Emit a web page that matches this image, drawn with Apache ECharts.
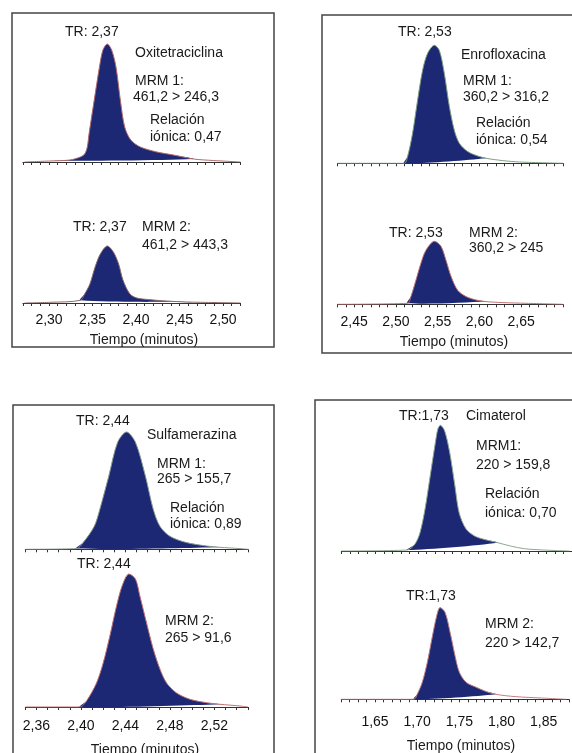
<!DOCTYPE html>
<html>
<head>
<meta charset="utf-8">
<script src="https://cdn.jsdelivr.net/npm/echarts@6/dist/echarts.min.js"></script>
<style>
  html, body { margin: 0; padding: 0; background: #fff; }
  #chart { width: 572px; height: 753px; }
</style>
</head>
<body>
<div id="chart"></div>
<script>
// Oxitetraciclina
var oxiMrm1Time = [2.272, 2.301, 2.324, 2.336, 2.341, 2.344, 2.346, 2.352, 2.358, 2.362, 2.367, 2.372, 2.377, 2.382, 2.387, 2.394, 2.405, 2.424, 2.443, 2.466, 2.489, 2.52];
var oxiMrm1Int  = [0, 1, 2, 5, 8, 15, 28, 62, 95, 112, 118, 112, 95, 62, 35, 22, 15, 10, 7, 3, 1.5, 0];
var oxiMrm1Peak = [2.301, 2.466];
var oxiMrm2Time = [2.272, 2.301, 2.336, 2.341, 2.347, 2.353, 2.359, 2.367, 2.374, 2.380, 2.385, 2.393, 2.401, 2.416, 2.435, 2.458, 2.474, 2.52];
var oxiMrm2Int  = [0, 0.7, 2.7, 9, 19, 36, 49, 57, 51, 39, 23, 9, 5, 3.3, 2, 1, 0.7, 0];
var oxiMrm2Peak = [2.336, 2.474];
var oxiTicks = [2.30, 2.35, 2.40, 2.45, 2.50];

// Enrofloxacina
var enroMrm1Time = [2.43, 2.510, 2.514, 2.520, 2.526, 2.532, 2.538, 2.546, 2.552, 2.558, 2.564, 2.570, 2.576, 2.586, 2.598, 2.608, 2.628, 2.648, 2.70];
var enroMrm1Int  = [0, 0, 6.7, 30, 63, 93, 110, 118, 113, 90, 57, 33, 20, 11.7, 7.3, 5, 2.7, 1.3, 0];
var enroMrm1Peak = [2.510, 2.608];
var enroMrm2Time = [2.43, 2.514, 2.518, 2.524, 2.530, 2.536, 2.546, 2.554, 2.560, 2.566, 2.574, 2.584, 2.596, 2.608, 2.628, 2.656, 2.70];
var enroMrm2Int  = [0, 1, 7.7, 24, 41, 54, 63, 58, 44, 28, 14, 7.7, 4.3, 2.7, 1.7, 1, 0];
var enroMrm2Peak = [2.514, 2.608];
var enroTicks = [2.45, 2.50, 2.55, 2.60, 2.65];

// Sulfamerazina
var sulfaMrm1Time = [2.35, 2.396, 2.402, 2.412, 2.417, 2.425, 2.433, 2.441, 2.449, 2.458, 2.465, 2.471, 2.480, 2.495, 2.513, 2.525, 2.543, 2.55];
var sulfaMrm1Int  = [0, 0.7, 6.7, 23, 40, 73, 107, 117.3, 107, 73, 40, 23, 13, 6.7, 3.3, 2, 0.7, 0];
var sulfaMrm1Peak = [2.396, 2.525];
var sulfaMrm2Time = [2.35, 2.399, 2.405, 2.414, 2.420, 2.426, 2.432, 2.437, 2.443, 2.449, 2.453, 2.459, 2.465, 2.471, 2.477, 2.486, 2.498, 2.513, 2.525, 2.543, 2.55];
var sulfaMrm2Int  = [0, 0, 6, 24, 44, 71, 101, 121, 133, 128, 111, 84, 58, 38, 24, 14, 7.7, 4.3, 2.7, 1, 0];
var sulfaMrm2Peak = [2.399, 2.525];
var sulfaTicks = [2.36, 2.40, 2.44, 2.48, 2.52];

// Cimaterol
var cimaMrm1Time = [1.61, 1.687, 1.696, 1.702, 1.708, 1.714, 1.720, 1.723, 1.726, 1.731, 1.737, 1.743, 1.748, 1.756, 1.766, 1.777, 1.793, 1.808, 1.824, 1.847, 1.877];
var cimaMrm1Int  = [0, 1, 6.7, 18, 42, 75, 108, 122, 125.7, 120, 98, 65, 38, 22, 15, 11.7, 8.3, 5, 2.3, 1, 0];
var cimaMrm1Peak = [1.687, 1.793];
var cimaMrm2Time = [1.61, 1.696, 1.700, 1.706, 1.712, 1.718, 1.723, 1.727, 1.733, 1.739, 1.745, 1.750, 1.758, 1.770, 1.781, 1.793, 1.816, 1.847, 1.877];
var cimaMrm2Int  = [0, 0, 5, 17, 37, 63, 83, 91.7, 87, 67, 43, 27, 17, 12, 8, 5, 2.7, 1.3, 0];
var cimaMrm2Peak = [1.696, 1.793];
var cimaTicks = [1.65, 1.70, 1.75, 1.80, 1.85];

/** Disposición de cada cromatograma **/
var FONT = '14px "Liberation Sans", Arial, sans-serif';
var NAVY = '#1c2874';
var H = 140;
var traces = [
  { time: oxiMrm1Time, int: oxiMrm1Int, peak: oxiMrm1Peak, min: 2.27, max: 2.52, left: 22.9, right: 331.6, base: 162, ticks: null, color: '#b06a6a' },
  { time: oxiMrm2Time, int: oxiMrm2Int, peak: oxiMrm2Peak, min: 2.27, max: 2.52, left: 22.9, right: 331.6, base: 303, ticks: oxiTicks, margin: 10, color: '#8a6a6a' },
  { time: enroMrm1Time, int: enroMrm1Int, peak: enroMrm1Peak, min: 2.43, max: 2.70, left: 337.4, right: 9.1, base: 163.3, ticks: null, color: '#7f9f80' },
  { time: enroMrm2Time, int: enroMrm2Int, peak: enroMrm2Peak, min: 2.43, max: 2.70, left: 337.4, right: 9.1, base: 304.3, ticks: enroTicks, margin: 11, color: '#c07070' },
  { time: sulfaMrm1Time, int: sulfaMrm1Int, peak: sulfaMrm1Peak, min: 2.35, max: 2.55, left: 25.3, right: 324.2, base: 549.3, ticks: null, color: '#8a9a8a' },
  { time: sulfaMrm2Time, int: sulfaMrm2Int, peak: sulfaMrm2Peak, min: 2.35, max: 2.55, left: 25.3, right: 324.2, base: 707, ticks: sulfaTicks, margin: 12, color: '#c07070' },
  { time: cimaMrm1Time, int: cimaMrm1Int, peak: cimaMrm1Peak, min: 1.61, max: 1.88, left: 341.3, right: -3.4, base: 551, ticks: null, color: '#90a890' },
  { time: cimaMrm2Time, int: cimaMrm2Int, peak: cimaMrm2Peak, min: 1.61, max: 1.88, left: 341.3, right: -3.4, base: 699.3, ticks: cimaTicks, margin: 16, color: '#c08080' }
];

// textos: [texto, x, y, alineación]
var notes = [
  ['TR: 2,37', 65, 32], ['Oxitetraciclina', 135, 53], ['MRM 1:', 135, 81], ['461,2 > 246,3', 133, 97],
  ['Relación', 150, 120], ['iónica: 0,47', 150, 137], ['TR: 2,37', 73, 227], ['MRM 2:', 142, 227],
  ['461,2 > 443,3', 142, 245], ['Tiempo (minutos)', 144, 340, 'center'],
  ['TR: 2,53', 398, 32], ['Enrofloxacina', 461, 55], ['MRM 1:', 463, 81], ['360,2 > 316,2', 463, 97],
  ['Relación', 476, 123], ['iónica: 0,54', 476, 140], ['TR: 2,53', 389, 233], ['MRM 2:', 469, 233],
  ['360,2 > 245', 469, 248], ['Tiempo (minutos)', 454, 342, 'center'],
  ['TR: 2,44', 76, 421], ['Sulfamerazina', 147, 435], ['MRM 1:', 157, 464], ['265 > 155,7', 157, 479],
  ['Relación', 170, 508], ['iónica: 0,89', 170, 524], ['TR: 2,44', 77, 564], ['MRM 2:', 165, 621],
  ['265 > 91,6', 165, 638], ['Tiempo (minutos)', 145, 750, 'center'],
  ['TR:1,73', 399, 416], ['Cimaterol', 466, 416], ['MRM1:', 476, 446], ['220 > 159,8', 476, 465],
  ['Relación', 485, 494], ['iónica: 0,70', 485, 513], ['TR:1,73', 406, 596], ['MRM 2:', 485, 624],
  ['220 > 142,7', 485, 643], ['Tiempo (minutos)', 461, 746, 'center']
];

// marcos: [x, y, ancho, alto]
var frames = [[12, 13, 262, 334], [322, 15, 300, 338], [13, 405, 261, 400], [315, 400, 300, 400]];

var chart = echarts.init(document.getElementById('chart'));
var grids = [], xAxes = [], yAxes = [], series = [];

traces.forEach(function (tr, i) {
  grids.push({ left: tr.left, right: tr.right, top: tr.base - H, height: H, containLabel: false });
  xAxes.push({
    type: 'value', gridIndex: i, min: tr.min, max: tr.max, interval: 0.01,
    axisLine: { lineStyle: { color: '#333', width: 1 } },
    axisTick: { length: 3, lineStyle: { color: '#333' } },
    splitLine: { show: false },
    axisLabel: {
      show: !!tr.ticks, margin: tr.margin || 8, color: '#111', fontSize: 14,
      fontFamily: '"Liberation Sans", Arial, sans-serif',
      formatter: function (v) {
        if (!tr.ticks) return '';
        for (var k = 0; k < tr.ticks.length; k++) {
          if (Math.abs(tr.ticks[k] - v) < 1e-6) return tr.ticks[k].toFixed(2).replace('.', ',');
        }
        return '';
      }
    }
  });
  yAxes.push({ type: 'value', gridIndex: i, min: 0, max: H, show: false });

  // área integrada del pico
  series.push({
    type: 'custom', xAxisIndex: i, yAxisIndex: i, z: 2, silent: true,
    data: [[tr.peak[0], 0]],
    renderItem: function (params, api) {
      var pts = [];
      for (var k = 0; k < tr.time.length; k++) {
        if (tr.time[k] >= tr.peak[0] - 1e-9 && tr.time[k] <= tr.peak[1] + 1e-9) {
          pts.push(api.coord([tr.time[k], tr.int[k]]));
        }
      }
      return { type: 'polygon', shape: { points: pts, smooth: 0.3 }, style: { fill: NAVY } };
    }
  });
  // traza del cromatograma
  series.push({
    type: 'line', xAxisIndex: i, yAxisIndex: i, z: 3, silent: true,
    data: tr.time.map(function (t, k) { return [t, tr.int[k]]; }),
    smooth: 0.3, symbol: 'none',
    lineStyle: { width: 1, color: tr.color }
  });
});

var graphics = [];
frames.forEach(function (f) {
  graphics.push({ type: 'rect', shape: { x: f[0], y: f[1], width: f[2], height: f[3] }, style: { fill: 'none', stroke: '#444', lineWidth: 1.5 }, z: 0 });
});
notes.forEach(function (n) {
  graphics.push({ type: 'text', x: n[1], y: n[2], style: { text: n[0], font: FONT, fill: '#1a1a1a', align: n[3] || 'left', verticalAlign: 'middle' }, z: 10 });
});

chart.setOption({
  animation: false,
  grid: grids,
  xAxis: xAxes,
  yAxis: yAxes,
  series: series,
  graphic: graphics
});
</script>
</body>
</html>
